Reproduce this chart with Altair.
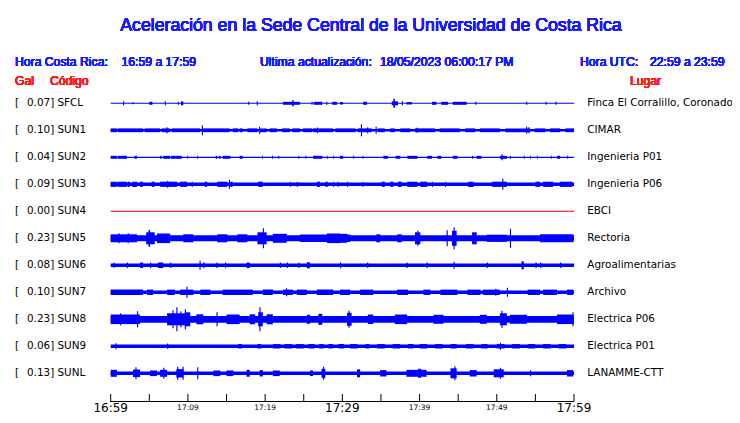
import altair as alt
import pandas as pd

# ---------------- data ----------------
codes = ["SFCL", "SUN1", "SUN2", "SUN3", "SUN4", "SUN5", "SUN6", "SUN7", "SUN8", "SUN9", "SUNL"]
gals = [0.07, 0.10, 0.04, 0.09, 0.00, 0.23, 0.08, 0.10, 0.23, 0.06, 0.13]
places = ["Finca El Corralillo, Coronado", "CIMAR", "Ingenieria P01", "Ingenieria P06", "EBCI",
          "Rectoria", "Agroalimentarias", "Archivo", "Electrica P06", "Electrica P01", "LANAMME-CTT"]
trace_colors = ["#0000ff"] * 4 + ["#e00000"] + ["#0000ff"] * 6
# background (noise) half amplitude of every trace
base_level = [0.5, 1.2, 0.6, 1.7, 0.5, 3.0, 1.8, 1.7, 3.4, 1.7, 1.8]

# bursts: (start minute, end minute, half amplitude)
sfcl_events = [(1.6, 1.75, 2), (2.8, 2.95, 1), (5.0, 5.4, 1.5), (7.0, 7.15, 2), (8.7, 8.85, 1.5),
               (9.1, 9.4, 2), (17.8, 17.95, 1.5), (18.9, 19.05, 2), (22.3, 24.5, 1.5), (23.5, 23.7, 3),
               (26.0, 26.15, 1.5), (26.3, 27.4, 1.5), (27.9, 28.05, 1.5), (28.7, 29.3, 1.5), (29.7, 30.1, 1.2),
               (32.7, 33.2, 1.5), (36.4, 37.2, 2), (36.6, 36.8, 4.5), (37.7, 37.85, 2), (38.3, 39.0, 1.2),
               (41.6, 42.2, 1.5), (42.8, 43.7, 1.5), (44.3, 46.1, 1.5), (47.2, 47.35, 1.5), (53.8, 53.95, 1.5),
               (56.3, 56.45, 1.5), (57.6, 57.75, 1.5)]
sun1_events = [(0, 0.8, 1.9), (0.9, 4.2, 1.9), (4.4, 6.4, 1.9), (6.6, 7.7, 1.9), (7.9, 11.6, 1.9),
               (11.9, 15.4, 1.9), (15.8, 16.5, 1.9), (16.7, 17.1, 1.9), (17.7, 19.0, 1.9), (19.3, 20.2, 1.9),
               (20.6, 21.5, 1.9), (22.2, 23.2, 1.9), (23.5, 24.5, 1.9), (24.9, 26.1, 1.9), (26.2, 28.8, 1.9),
               (29.1, 29.7, 1.9), (29.7, 31.7, 1.9), (32.0, 33.8, 1.9), (34.6, 35.5, 1.9), (36.2, 36.8, 1.9),
               (37.5, 38.8, 1.9), (39.4, 42.0, 1.9), (42.6, 45.2, 1.9), (45.9, 47.2, 1.9), (47.8, 50.4, 1.9),
               (51.1, 54.3, 1.9), (54.9, 56.3, 1.9), (56.9, 58.2, 1.9), (58.9, 60.0, 1.9),
               (7.2, 7.35, 3), (11.8, 11.95, 5), (19.2, 19.35, 3.5), (26.7, 26.85, 2.8), (32.4, 32.55, 6),
               (33.2, 33.35, 3), (34.3, 34.45, 3.5), (39.6, 39.75, 2.5), (53.8, 53.95, 3.5), (54.1, 54.25, 3)]
sun2_events = [(0, 0.8, 1.5), (0.9, 2.1, 1.5), (3.1, 3.4, 1.5), (6.4, 6.6, 1.5), (6.8, 7.7, 1.5),
               (7.8, 9.2, 1.5), (9.9, 10.0, 1.5), (11.2, 11.3, 1.5), (13.6, 13.8, 1.5), (14.0, 14.2, 1.5),
               (14.5, 15.5, 1.5), (16.7, 17.1, 1.5), (19.6, 19.7, 1.5), (20.9, 21.0, 1.5), (21.7, 21.8, 1.5),
               (24.3, 24.4, 1.5), (25.2, 25.3, 1.5), (26.2, 27.4, 1.5), (28.0, 28.1, 1.5), (28.8, 28.9, 1.5),
               (29.7, 30.1, 1.5), (31.4, 31.5, 1.5), (32.6, 32.7, 1.5), (35.3, 35.9, 1.5), (36.9, 37.5, 1.5),
               (38.4, 39.7, 1.5), (41.0, 41.6, 1.5), (42.3, 42.8, 1.5), (44.3, 44.9, 1.5), (46.8, 46.9, 1.5),
               (47.4, 48.0, 1.5), (50.4, 51.3, 1.5), (51.7, 51.8, 1.5), (53.5, 53.6, 1.5), (54.3, 54.4, 1.5),
               (55.2, 55.3, 1.5), (57.0, 57.1, 1.5), (57.8, 58.2, 1.5), (59.1, 59.2, 1.5), (50.6, 50.75, 3)]
sun3_events = [(0, 0.8, 2.6), (0.9, 2.1, 2.6), (2.2, 2.5, 2.6), (2.8, 3.4, 2.6), (3.8, 4.2, 2.6),
               (5.3, 5.7, 2.6), (6.4, 8.6, 2.6), (9.0, 9.9, 2.6), (10.5, 10.6, 2.6), (12.2, 12.5, 2.6),
               (13.8, 15.1, 2.6), (15.5, 15.8, 2.6), (19.1, 19.7, 2.6), (23.2, 23.3, 2.6), (24.1, 24.2, 2.6),
               (26.7, 27.1, 2.6), (27.8, 28.1, 2.6), (28.8, 28.9, 2.6), (29.4, 29.5, 2.6), (30.6, 30.7, 2.6),
               (32.6, 32.7, 2.6), (35.1, 35.5, 2.6), (36.2, 36.6, 2.6), (37.2, 37.7, 2.6), (38.4, 39.7, 2.6),
               (40.1, 41.0, 2.6), (41.6, 41.7, 2.6), (43.3, 43.4, 2.6), (46.3, 47.0, 2.6), (49.4, 51.3, 2.6),
               (55.0, 55.6, 2.6), (56.0, 57.3, 2.6), (58.2, 59.8, 2.6),
               (7.3, 7.45, 3.5), (15.3, 15.45, 4.5), (50.7, 50.85, 5.5)]
sun4_events = []
sun5_events = [(0, 3.4, 4), (1.0, 1.15, 5), (2.2, 2.35, 5), (4.6, 5.7, 6), (4.9, 5.1, 8.5), (6.0, 7.7, 4.8),
               (9.4, 10.7, 4), (13.8, 15.1, 4), (16.4, 17.7, 4), (19.0, 20.2, 6), (19.7, 19.85, 10),
               (21.0, 22.8, 4.5), (24.5, 31.0, 3.8), (28.0, 29.7, 4.8), (29.7, 30.6, 4.5), (34.4, 34.9, 4),
               (37.1, 37.7, 4), (39.4, 40.1, 6), (39.7, 39.85, 7.5), (43.5, 43.65, 8), (44.2, 44.8, 7.5),
               (44.4, 44.55, 11), (46.8, 47.4, 6), (48.7, 51.3, 3.6), (51.7, 51.85, 9.5), (55.6, 59.9, 4)]
sun6_events = [(0.35, 0.5, 2.8), (2.1, 2.25, 2.8), (3.8, 4.2, 2.8), (5.1, 5.25, 2.8), (6.1, 6.8, 2.8),
               (7.7, 7.85, 2.8), (11.5, 11.65, 4.5), (12.0, 12.15, 3), (13.7, 13.85, 2.8), (14.8, 14.95, 2.8),
               (17.6, 18.0, 2.8), (21.9, 22.05, 2.8), (22.8, 22.95, 2.8), (24.3, 24.45, 2.8), (25.4, 25.8, 3),
               (29.7, 29.85, 3), (33.2, 33.35, 2.8), (38.3, 38.45, 2.8), (40.9, 41.05, 2.8), (44.4, 44.55, 3.5),
               (48.7, 48.85, 2.8), (53.2, 53.5, 4), (55.0, 55.15, 2.8), (55.6, 55.75, 2.8), (58.2, 58.35, 2.8)]
sun7_events = [(0, 4.2, 2.7), (4.7, 5.5, 2.7), (7.3, 8.3, 2.7), (9.0, 10.7, 2.7), (11.6, 12.9, 2.7),
               (14.5, 18.4, 2.7), (19.7, 21.0, 2.7), (22.3, 23.6, 2.7), (24.1, 25.4, 2.7), (26.7, 28.8, 2.7),
               (29.7, 31.0, 2.7), (32.3, 34.0, 2.7), (37.1, 38.5, 2.7), (40.5, 41.4, 2.7), (42.7, 44.9, 2.7),
               (46.2, 47.9, 2.7), (48.2, 50.4, 2.7), (54.0, 55.6, 2.7), (56.0, 57.8, 2.7), (59.1, 59.9, 2.7),
               (9.8, 9.95, 5.5), (22.7, 22.85, 4), (49.8, 49.95, 3.5), (51.3, 51.45, 4.5)]
sun8_events = [(0, 3.8, 4.8), (1.2, 1.35, 6), (3.4, 3.55, 8), (7.3, 9.8, 6), (8.0, 8.15, 9), (8.5, 8.65, 12),
               (9.0, 9.15, 8), (9.6, 10.3, 7), (9.6, 9.75, 10), (11.1, 12.0, 5), (13.7, 13.85, 7),
               (15.0, 16.7, 4.8), (18.0, 18.7, 5), (19.1, 19.7, 7), (19.25, 19.4, 12), (20.2, 21.0, 5),
               (25.4, 25.8, 4.5), (26.9, 27.4, 5.5), (30.6, 31.2, 6.5), (30.8, 30.95, 8.5), (33.3, 34.0, 4.8),
               (36.8, 38.4, 4.8), (41.8, 43.1, 4.5), (47.8, 48.7, 4.5), (50.4, 51.3, 6), (50.6, 50.75, 8.5),
               (51.7, 53.9, 4.5), (57.8, 59.9, 4.8), (59.8, 59.95, 7)]
sun9_events = [(16.5, 17.0, 2.2), (19.0, 19.5, 2.2), (21.0, 22.0, 2.2), (22.5, 23.5, 2.2), (24.0, 25.0, 2.2),
               (25.6, 26.4, 2.2), (27.0, 27.6, 2.2), (28.2, 28.8, 2.2), (29.5, 30.2, 2.2), (31.0, 32.0, 2.2),
               (33.0, 33.5, 2.2), (34.5, 35.5, 2.2), (36.5, 37.5, 2.2), (38.5, 39.2, 2.2), (40.0, 41.0, 2.2),
               (42.0, 43.0, 2.2), (44.0, 44.8, 2.2), (46.0, 47.0, 2.2), (48.0, 48.8, 2.2), (50.0, 51.0, 2.2),
               (52.0, 53.0, 2.2), (54.0, 55.0, 2.2), (56.0, 57.0, 2.2), (58.0, 59.0, 2.2),
               (0.6, 0.75, 3), (7.3, 7.45, 2.8), (50.4, 50.55, 3.5)]
sunl_events = [(0, 0.8, 3.5), (2.9, 3.8, 3.8), (3.2, 3.35, 6), (5.1, 6.0, 2.8), (6.4, 7.3, 3.5), (6.8, 6.95, 5.5),
               (8.5, 9.4, 4.2), (8.6, 8.75, 6.5), (9.3, 9.45, 6.5), (11.2, 11.35, 6), (13.3, 14.2, 2.8),
               (15.0, 15.9, 2.8), (17.6, 18.0, 3.5), (19.3, 19.7, 3.2), (21.0, 21.9, 2.8), (25.8, 26.2, 2.8),
               (27.3, 27.8, 4.5), (27.5, 27.65, 6.5), (31.9, 32.3, 4), (34.9, 35.7, 3.2), (38.3, 40.9, 3.5),
               (39.8, 40.2, 4.5), (44.0, 44.8, 5), (44.5, 44.65, 7), (46.5, 47.4, 3.2), (49.6, 50.9, 4),
               (50.4, 50.55, 5.5), (54.3, 54.45, 3), (59.1, 59.9, 3.2)]
all_events = [sfcl_events, sun1_events, sun2_events, sun3_events, sun4_events, sun5_events,
              sun6_events, sun7_events, sun8_events, sun9_events, sunl_events]

tick_minutes = list(range(0, 61, 5))
major_labels = {0: "16:59", 30: "17:29", 60: "17:59"}
minor_labels = {10: "17:09", 20: "17:19", 40: "17:39", 50: "17:49"}

# ---------------- tables ----------------
ROW_UNITS = 27.0  # amplitude units per trace spacing
rows = []
for r, code in enumerate(codes):
    segs = [(0.0, 60.0, base_level[r])] + list(all_events[r])
    for (a, b, amp) in segs:
        if b - a < 0.13:
            b = a + 0.13
        rows.append({"code": code, "row": r, "t0": a, "t1": b,
                     "lo": r - amp / ROW_UNITS, "hi": r + amp / ROW_UNITS,
                     "color": trace_colors[r]})
traces = pd.DataFrame(rows)

stations = pd.DataFrame({
    "row": list(range(len(codes))),
    "left": [f"{g:.2f}] {c}" for g, c in zip(gals, codes)],
    "place": places,
})
ticks = pd.DataFrame({"t": tick_minutes})
big = pd.DataFrame({"t": list(major_labels.keys()), "lab": list(major_labels.values())})
small = pd.DataFrame({"t": list(minor_labels.keys()), "lab": list(minor_labels.values())})

xs = alt.Scale(domain=[0, 60], range=[102.7, 566])
ys = alt.Scale(domain=[0, 10], range=[95.3, 365.3])

BLUE_TXT = "#1a1aff"
RED_TXT = "#ff1a1a"

trace_layer = alt.Chart(traces).mark_rect().encode(
    x=alt.X("t0:Q", scale=xs, axis=None),
    x2="t1:Q",
    y=alt.Y("lo:Q", scale=ys, axis=None),
    y2="hi:Q",
    color=alt.Color("color:N", scale=None),
)

txt_common = dict(font="DejaVu Sans", fontSize=10.4, color="#000000", baseline="middle")
bracket = alt.Chart(stations).mark_text(align="left", **txt_common).encode(
    x=alt.value(7), y=alt.Y("row:Q", scale=ys, axis=None), text=alt.value("[")
)
left_lab = alt.Chart(stations).mark_text(align="left", **txt_common).encode(
    x=alt.value(19), y=alt.Y("row:Q", scale=ys, axis=None), text="left:N"
)
right_lab = alt.Chart(stations).mark_text(align="left", **txt_common).encode(
    x=alt.value(579.3), y=alt.Y("row:Q", scale=ys, axis=None), text="place:N"
)

axis_line = alt.Chart(ticks).mark_rule(color="#000000", strokeWidth=1).encode(
    x=alt.value(102.7), x2=alt.value(566), y=alt.value(393.5)
)
tick_layer = alt.Chart(ticks).mark_rule(color="#000000", strokeWidth=1).encode(
    x=alt.X("t:Q", scale=xs, axis=None), y=alt.value(386), y2=alt.value(393.5)
)
big_lab = alt.Chart(big).mark_text(font="DejaVu Sans", fontSize=12, color="#000000",
                                   baseline="alphabetic", align="center").encode(
    x=alt.X("t:Q", scale=xs, axis=None), y=alt.value(404), text="lab:N"
)
small_lab = alt.Chart(small).mark_text(font="DejaVu Sans", fontSize=7.5, color="#000000",
                                       baseline="alphabetic", align="center").encode(
    x=alt.X("t:Q", scale=xs, axis=None), y=alt.value(401.5), text="lab:N"
)

def label(text, x, y, color, size=12.2, align="left", font="Liberation Sans"):
    return alt.Chart(ticks).mark_text(font=font, fontSize=size, color=color,
                                      align=align, baseline="alphabetic").encode(
        x=alt.value(x), y=alt.value(y), text=alt.value(text)
    )

headers = [
    label("Aceleración en la Sede Central de la Universidad de Costa Rica", 363, 22.7, BLUE_TXT, size=17.7, align="center"),
    label("Hora Costa Rica:", 7, 57.5, BLUE_TXT),
    label("16:59 a 17:59", 113.5, 57.5, BLUE_TXT),
    label("Ultima actualización:", 252, 57.5, BLUE_TXT),
    label("18/05/2023 06:00:17 PM", 372, 57.5, BLUE_TXT),
    label("Hora UTC:", 572, 57.5, BLUE_TXT),
    label("22:59 a 23:59", 642, 57.5, BLUE_TXT),
    label("Gal", 7, 77, RED_TXT),
    label("Código", 42, 77, RED_TXT),
    label("Lugar", 622, 77, RED_TXT),
]

chart = alt.layer(
    trace_layer, bracket, left_lab, right_lab, axis_line, tick_layer, big_lab, small_lab, *headers
).properties(
    width=724, height=407, autosize="none", padding=0, background="#ffffff"
).configure_view(stroke=None)

chart.save("out.html", embed_options={"renderer": "svg", "actions": False})
